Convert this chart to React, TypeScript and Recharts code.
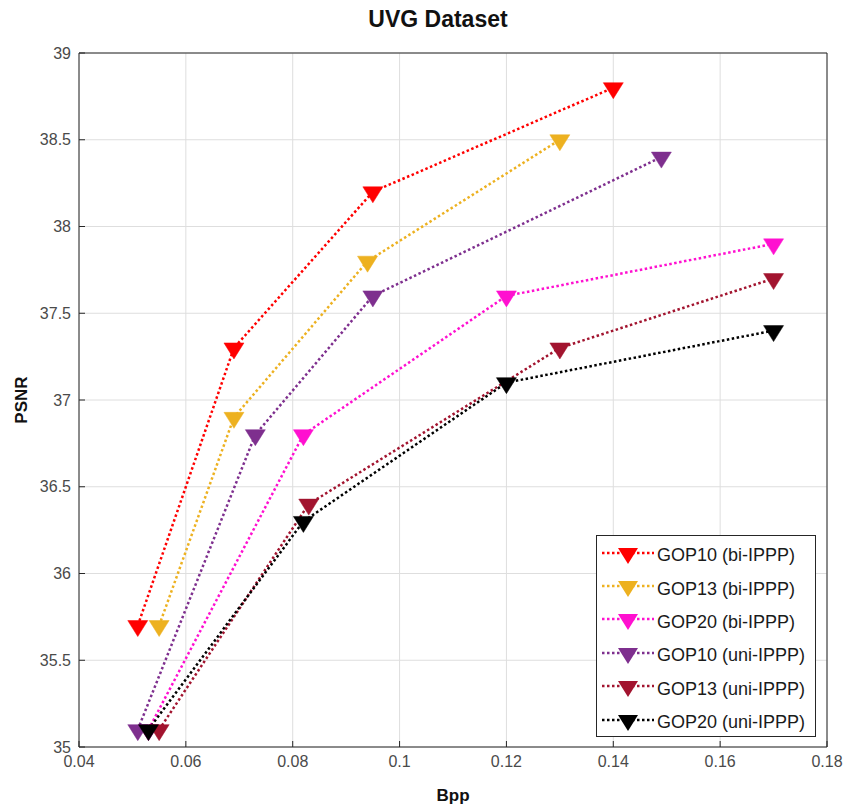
import { LineChart, Line, XAxis, YAxis, CartesianGrid, Legend, Label } from 'recharts';

// axis ticks
const xTicks = [0.04, 0.06, 0.08, 0.1, 0.12, 0.14, 0.16, 0.18];
const yTicks = [35, 35.5, 36, 36.5, 37, 37.5, 38, 38.5, 39];

// rate/distortion points per configuration
const gop10BiBpp = [0.051, 0.069, 0.095, 0.14];
const gop10BiPsnr = [35.7, 37.3, 38.2, 38.8];
const gop13BiBpp = [0.055, 0.069, 0.094, 0.13];
const gop13BiPsnr = [35.7, 36.9, 37.8, 38.5];
const gop20BiBpp = [0.053, 0.082, 0.12, 0.17];
const gop20BiPsnr = [35.1, 36.8, 37.6, 37.9];
const gop10UniBpp = [0.051, 0.073, 0.095, 0.149];
const gop10UniPsnr = [35.1, 36.8, 37.6, 38.4];
const gop13UniBpp = [0.055, 0.083, 0.13, 0.17];
const gop13UniPsnr = [35.1, 36.4, 37.3, 37.7];
const gop20UniBpp = [0.053, 0.082, 0.12, 0.17];
const gop20UniPsnr = [35.1, 36.3, 37.1, 37.4];

const toPoints = (bpp: number[], psnr: number[]) => bpp.map((b, i) => ({ bpp: b, psnr: psnr[i] }));

const series = [
  { name: 'GOP10 (bi-IPPP)', color: '#ff0000', data: toPoints(gop10BiBpp, gop10BiPsnr) },
  { name: 'GOP13 (bi-IPPP)', color: '#edb120', data: toPoints(gop13BiBpp, gop13BiPsnr) },
  { name: 'GOP20 (bi-IPPP)', color: '#ff10d0', data: toPoints(gop20BiBpp, gop20BiPsnr) },
  { name: 'GOP10 (uni-IPPP)', color: '#7e2f8e', data: toPoints(gop10UniBpp, gop10UniPsnr) },
  { name: 'GOP13 (uni-IPPP)', color: '#a2142f', data: toPoints(gop13UniBpp, gop13UniPsnr) },
  { name: 'GOP20 (uni-IPPP)', color: '#000000', data: toPoints(gop20UniBpp, gop20UniPsnr) },
];
const seriesOrder = series.map((s) => s.name);

const FONT = '"Liberation Sans", Arial, Helvetica, sans-serif';
const AXIS = '#262626';
const TICK_TEXT = '#4a4a4a';

// downward-pointing triangle marker
const triangle = (cx: number, cy: number) =>
  `M${cx - 10},${cy - 5} L${cx + 10},${cy - 5} L${cx},${cy + 11} Z`;

const makeDot = (color: string, name: string) => (props: any) => {
  const { cx, cy, index } = props;
  return <path key={`${name}-${index}`} d={triangle(cx, cy)} fill={color} stroke={color} strokeWidth={0.5} />;
};

const LegendBox = (props: any) => {
  const payload = [...(props.payload || [])].sort(
    (a: any, b: any) => seriesOrder.indexOf(a.value) - seriesOrder.indexOf(b.value)
  );
  return (
    <div
      style={{
        width: 220,
        height: 202,
        border: `1px solid ${AXIS}`,
        background: '#fff',
        padding: '3px 0 0 0',
        boxSizing: 'border-box',
        fontFamily: FONT,
      }}
    >
      {payload.map((entry: any) => (
        <div key={entry.value} style={{ display: 'flex', alignItems: 'center', height: 33.4 }}>
          <svg width={60} height={24} style={{ marginLeft: 3 }}>
            <line x1={2} y1={9} x2={54} y2={9} stroke={entry.color} strokeWidth={2.5} strokeDasharray="2.5 2.5" />
            <path d={triangle(28, 9)} fill={entry.color} />
          </svg>
          <span style={{ fontSize: 18, color: '#1a1a1a', marginLeft: -3, whiteSpace: 'nowrap' }}>{entry.value}</span>
        </div>
      ))}
    </div>
  );
};

export default function App() {
  return (
    <div style={{ position: 'absolute', left: 0, top: 0, width: 850, height: 809, background: '#fff', fontFamily: FONT }}>
      <div
        style={{
          position: 'absolute',
          left: 0,
          width: 876,
          top: 6,
          textAlign: 'center',
          fontWeight: 'bold',
          fontSize: 23,
          color: '#111',
        }}
      >
        UVG Dataset
      </div>
      <LineChart width={850} height={809} margin={{ top: 20, right: 0, bottom: 0, left: 0 }}>
        <CartesianGrid stroke="#dedede" strokeWidth={1} />
        <XAxis
          dataKey="bpp"
          type="number"
          domain={[0.04, 0.18]}
          ticks={xTicks}
          interval={0}
          allowDataOverflow
          height={62}
          tickSize={-6}
          tickMargin={15}
          tickFormatter={(v: number) => String(Number(v.toFixed(2)))}
          tick={{ fill: TICK_TEXT, fontSize: 16 }}
          stroke={AXIS}
        >
          <Label
            content={(p: any) => {
              const vb = p.viewBox;
              return (
                <text x={vb.x + vb.width / 2} y={vb.y + 54} textAnchor="middle" fontWeight="bold" fontSize={17} fill="#111">
                  Bpp
                </text>
              );
            }}
          />
        </XAxis>
        <XAxis
          xAxisId="top"
          orientation="top"
          type="number"
          domain={[0.04, 0.18]}
          ticks={xTicks}
          interval={0}
          height={33}
          tickSize={-6}
          tickFormatter={() => ''}
          stroke={AXIS}
        />
        <YAxis
          type="number"
          domain={[35, 39]}
          ticks={yTicks}
          interval={0}
          allowDataOverflow
          width={79}
          tickSize={-6}
          tickMargin={14}
          tick={{ fill: TICK_TEXT, fontSize: 16 }}
          stroke={AXIS}
        >
          <Label
            content={(p: any) => {
              const vb = p.viewBox;
              const x = vb.x + 27;
              const y = vb.y + vb.height / 2;
              return (
                <text x={x} y={y} transform={`rotate(-90 ${x} ${y})`} textAnchor="middle" fontWeight="bold" fontSize={17} fill="#111">
                  PSNR
                </text>
              );
            }}
          />
        </YAxis>
        <YAxis
          yAxisId="right"
          orientation="right"
          type="number"
          domain={[35, 39]}
          ticks={yTicks}
          interval={0}
          width={23}
          tickSize={-6}
          tickFormatter={() => ''}
          stroke={AXIS}
        />
        {series.map((s) => (
          <Line
            key={s.name}
            name={s.name}
            data={s.data}
            dataKey="psnr"
            type="linear"
            stroke={s.color}
            strokeWidth={2.5}
            strokeDasharray="2.5 2.5"
            dot={makeDot(s.color, s.name)}
            activeDot={false}
            isAnimationActive={false}
          />
        ))}
        <Legend
          layout="vertical"
          align="center"
          verticalAlign="middle"
          content={<LegendBox />}
          wrapperStyle={{ left: 596, top: 535, width: 222, height: 204 }}
        />
      </LineChart>
    </div>
  );
}
